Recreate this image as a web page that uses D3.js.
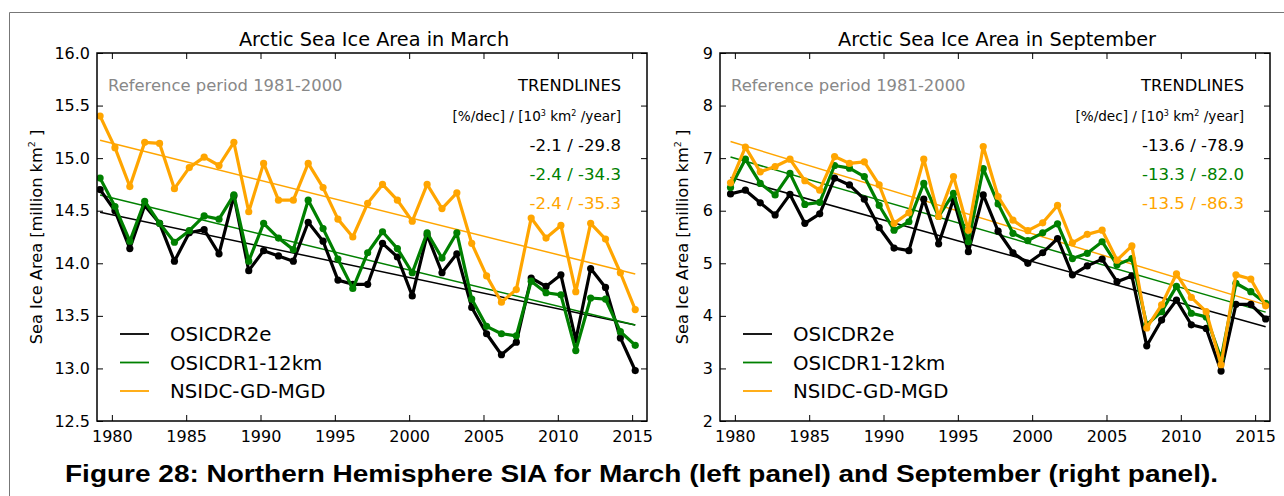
<!DOCTYPE html>
<html>
<head>
<meta charset="utf-8">
<script src="https://cdn.jsdelivr.net/npm/d3@7"></script>
<style>
  html, body { margin: 0; padding: 0; background: #fff; }
  svg { display: block; }
  text { font-family: "DejaVu Sans", sans-serif; }
  text.caption { font-family: "Liberation Sans", Arial, sans-serif; font-weight: bold; }
</style>
</head>
<body>
<svg id="fig" width="1284" height="496"></svg>
<script>
// Years covered by every series
const years = d3.range(1979, 2016);

// March sea ice area, million km²
const marchOSICDR2e = [14.70, 14.50, 14.14, 14.55, 14.38, 14.02, 14.29, 14.32, 14.09, 14.64,
  13.93, 14.12, 14.07, 14.02, 14.39, 14.21, 13.84, 13.80, 13.80, 14.19,
  14.06, 13.69, 14.27, 13.91, 14.09, 13.58, 13.33, 13.13, 13.25, 13.86,
  13.78, 13.89, 13.27, 13.95, 13.77, 13.29, 12.98];
const marchOSICDR1 = [14.81, 14.54, 14.21, 14.59, 14.38, 14.20, 14.31, 14.45, 14.42, 14.65,
  14.02, 14.38, 14.24, 14.13, 14.60, 14.33, 14.04, 13.76, 14.10, 14.30,
  14.14, 13.91, 14.29, 14.05, 14.29, 13.66, 13.40, 13.33, 13.31, 13.83,
  13.72, 13.70, 13.17, 13.67, 13.66, 13.35, 13.22];
const marchNSIDC = [15.40, 15.10, 14.73, 15.15, 15.14, 14.71, 14.91, 15.01, 14.93, 15.15,
  14.49, 14.95, 14.60, 14.60, 14.95, 14.72, 14.42, 14.25, 14.57, 14.75,
  14.60, 14.40, 14.75, 14.52, 14.67, 14.19, 13.88, 13.63, 13.75, 14.43,
  14.24, 14.36, 13.73, 14.38, 14.23, 13.91, 13.56];

// September sea ice area, million km²
const septOSICDR2e = [6.32, 6.39, 6.15, 5.92, 6.31, 5.76, 5.94, 6.62, 6.49, 6.22,
  5.68, 5.29, 5.24, 6.22, 5.37, 6.22, 5.22, 6.30, 5.61, 5.20,
  5.00, 5.20, 5.47, 4.78, 4.95, 5.08, 4.65, 4.76, 3.43, 3.92,
  4.30, 3.83, 3.76, 2.95, 4.22, 4.22, 3.94];
const septOSICDR1 = [6.44, 6.98, 6.52, 6.30, 6.71, 6.12, 6.16, 6.86, 6.81, 6.65,
  6.10, 5.63, 5.79, 6.52, 5.89, 6.33, 5.41, 6.80, 6.13, 5.57,
  5.43, 5.58, 5.75, 5.09, 5.19, 5.41, 4.97, 5.09, 3.83, 4.08,
  4.56, 4.05, 3.98, 3.19, 4.62, 4.46, 4.24];
const septNSIDC = [6.53, 7.21, 6.74, 6.84, 6.98, 6.57, 6.39, 7.03, 6.90, 6.93,
  6.49, 5.76, 5.96, 6.98, 5.89, 6.65, 5.63, 7.22, 6.27, 5.82,
  5.62, 5.77, 6.10, 5.39, 5.55, 5.63, 5.06, 5.33, 3.77, 4.21,
  4.80, 4.35, 4.08, 3.07, 4.78, 4.70, 4.19];

// Trend labels: [%/dec] and [10³ km²/year]
const marchTrendPct = ["-2.1", "-2.4", "-2.4"];
const marchTrendKm = [-29.8, -34.3, -35.3];
const septTrendPct = ["-13.6", "-13.3", "-13.5"];
const septTrendKm = [-78.9, -82.0, -86.3];

// Dataset names and colours
const seriesNames = ["OSICDR2e", "OSICDR1-12km", "NSIDC-GD-MGD"];
const seriesColors = ["#000000", "#008000", "#FFA500"];

// Axis ticks
const xTicks = [1980, 1985, 1990, 1995, 2000, 2005, 2010, 2015];
const marchYTicks = [12.5, 13.0, 13.5, 14.0, 14.5, 15.0, 15.5, 16.0];
const septYTicks = [2, 3, 4, 5, 6, 7, 8, 9];

const svg = d3.select("#fig");

// Outer figure frame (top and left edges)
svg.append("line").attr("x1", 9.5).attr("x2", 1284).attr("y1", 12.5).attr("y2", 12.5)
  .attr("stroke", "#777").attr("stroke-width", 1);
svg.append("line").attr("x1", 9.5).attr("x2", 9.5).attr("y1", 12.5).attr("y2", 496)
  .attr("stroke", "#777").attr("stroke-width", 1);

function drawPanel(cfg) {
  const x = d3.scaleLinear().domain([1979, 2016]).range([cfg.left, cfg.left + 550]);
  const y = d3.scaleLinear().domain(cfg.yDomain).range([421, 53]);
  const g = svg.append("g");
  const top = 53, bottom = 421, left = cfg.left, right = cfg.left + 550;

  // Axes: ticks pointing inward on all four sides
  const tickLen = 6;
  const axB = g.append("g").attr("transform", `translate(0,${bottom})`)
    .call(d3.axisBottom(x).tickValues(xTicks).tickFormat(d3.format("d")).tickSizeInner(-tickLen).tickSizeOuter(0).tickPadding(10));
  const axT = g.append("g").attr("transform", `translate(0,${top})`)
    .call(d3.axisTop(x).tickValues(xTicks).tickFormat("").tickSizeInner(-tickLen).tickSizeOuter(0));
  const axL = g.append("g").attr("transform", `translate(${left},0)`)
    .call(d3.axisLeft(y).tickValues(cfg.yTicks).tickFormat(cfg.yFormat).tickSizeInner(-tickLen).tickSizeOuter(0).tickPadding(7));
  const axR = g.append("g").attr("transform", `translate(${right},0)`)
    .call(d3.axisRight(y).tickValues(cfg.yTicks).tickFormat("").tickSizeInner(-tickLen).tickSizeOuter(0));
  [axB, axT, axL, axR].forEach(a => {
    a.select(".domain").remove();
    a.selectAll(".tick line").attr("stroke", "#000").attr("stroke-width", 1);
    a.selectAll("text").attr("font-size", 16).attr("fill", "#000");
  });

  // Clip data to the plotting area
  const clipId = "clip" + cfg.left;
  g.append("clipPath").attr("id", clipId).append("rect")
    .attr("x", left).attr("y", top).attr("width", 550).attr("height", bottom - top);
  const plot = g.append("g").attr("clip-path", `url(#${clipId})`);

  const xs = years.map(yr => yr + cfg.offset);

  // Trendlines: slope from the labelled rate, passing through the series mean
  cfg.series.forEach((vals, i) => {
    const slope = cfg.trendKm[i] / 1000;
    const mx = d3.mean(xs), my = d3.mean(vals);
    const x0 = xs[0], x1 = xs[xs.length - 1];
    plot.append("line")
      .attr("x1", x(x0)).attr("y1", y(my + slope * (x0 - mx)))
      .attr("x2", x(x1)).attr("y2", y(my + slope * (x1 - mx)))
      .attr("stroke", seriesColors[i]).attr("stroke-width", 1.5);
  });

  // Series lines with markers
  const line = d3.line().x((d, k) => x(xs[k])).y(d => y(d));
  cfg.series.forEach((vals, i) => {
    plot.append("path").datum(vals).attr("d", line)
      .attr("fill", "none").attr("stroke", seriesColors[i]).attr("stroke-width", 3.2)
      .attr("stroke-linejoin", "round");
    plot.selectAll(null).data(vals).enter().append("circle")
      .attr("cx", (d, k) => x(xs[k])).attr("cy", d => y(d)).attr("r", 3.6)
      .attr("fill", seriesColors[i]);
  });

  // Frame
  g.append("rect").attr("x", left).attr("y", top).attr("width", 550).attr("height", bottom - top)
    .attr("fill", "none").attr("stroke", "#000").attr("stroke-width", 1.5);

  // Title
  g.append("text").attr("x", left + 277).attr("y", 46).attr("text-anchor", "middle")
    .attr("font-size", 19.3).text(cfg.title);

  // Y axis label
  const yl = g.append("text").attr("transform", `translate(${cfg.yLabelX},237) rotate(-90)`)
    .attr("text-anchor", "middle").attr("font-size", 16.2);
  yl.append("tspan").text("Sea Ice Area [million km");
  yl.append("tspan").attr("font-size", 9.5).attr("dy", -7).text("2");
  yl.append("tspan").attr("dy", 7).text(" ]");

  // Reference period note
  g.append("text").attr("x", left + 11).attr("y", 91).attr("font-size", 16.4)
    .attr("fill", "#888").text("Reference period 1981-2000");

  // Trend box
  const tx = left + 524;
  g.append("text").attr("x", tx).attr("y", 91).attr("text-anchor", "end")
    .attr("font-size", 16.3).text("TRENDLINES");
  const u = g.append("text").attr("x", tx).attr("y", 121).attr("text-anchor", "end")
    .attr("font-size", 13.6);
  u.append("tspan").text("[%/dec] / [10");
  u.append("tspan").attr("font-size", 8).attr("dy", -5.5).text("3");
  u.append("tspan").attr("dy", 5.5).text(" km");
  u.append("tspan").attr("font-size", 8).attr("dy", -5.5).text("2");
  u.append("tspan").attr("dy", 5.5).text(" /year]");
  cfg.trendPct.forEach((p, i) => {
    g.append("text").attr("x", tx).attr("y", 151 + i * 29).attr("text-anchor", "end")
      .attr("font-size", 16.6).attr("fill", seriesColors[i])
      .text(`${p} / ${cfg.trendKm[i].toFixed(1)}`);
  });

  // Legend
  seriesNames.forEach((name, i) => {
    const ly = 334 + i * 28.5;
    g.append("line").attr("x1", left + 23).attr("x2", left + 52).attr("y1", ly).attr("y2", ly)
      .attr("stroke", seriesColors[i]).attr("stroke-width", 1.8);
    g.append("text").attr("x", left + 73).attr("y", ly + 7).attr("font-size", 19.8)
      .text(name);
  });
}

drawPanel({
  left: 97, yDomain: [12.5, 16.0], yTicks: marchYTicks, yFormat: d3.format(".1f"),
  offset: 2.5 / 12, series: [marchOSICDR2e, marchOSICDR1, marchNSIDC],
  trendKm: marchTrendKm, trendPct: marchTrendPct,
  title: "Arctic Sea Ice Area in March", yLabelX: 42
});
drawPanel({
  left: 720, yDomain: [2, 9], yTicks: septYTicks, yFormat: d3.format("d"),
  offset: 8.5 / 12, series: [septOSICDR2e, septOSICDR1, septNSIDC],
  trendKm: septTrendKm, trendPct: septTrendPct,
  title: "Arctic Sea Ice Area in September", yLabelX: 688
});

// Figure caption
svg.append("text").attr("class", "caption").attr("x", 641.5).attr("y", 482).attr("text-anchor", "middle")
  .attr("font-size", 24).attr("textLength", 1153).attr("lengthAdjust", "spacingAndGlyphs")
  .text("Figure 28: Northern Hemisphere SIA for March (left panel) and September (right panel).");
</script>
</body>
</html>
